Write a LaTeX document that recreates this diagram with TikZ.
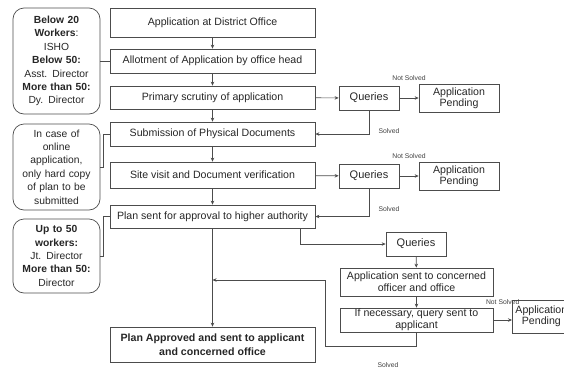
\documentclass[tikz,border=0pt]{standalone}
\usepackage{fontspec}
\setmainfont{Liberation Sans}
\usetikzlibrary{arrows.meta,calc}
\begin{document}
\begin{tikzpicture}[x=1pt,y=-1pt,
  every node/.style={font=\fontsize{10.6}{12}\selectfont, text=black!85},
  box/.style={draw=black!70, line width=0.7pt, minimum width=205pt, minimum height=24pt, inner sep=1pt, align=center},
  qbox/.style={draw=black!70, line width=0.7pt, minimum width=60pt, minimum height=24pt, inner sep=1pt, align=center, font=\fontsize{11}{12}\selectfont},
  pbox/.style={draw=black!70, line width=0.7pt, minimum width=80pt, minimum height=28pt, inner sep=0pt, align=center, font=\fontsize{10.6}{11}\selectfont},
  sbox/.style={draw=black!70, line width=0.7pt, minimum width=153pt, minimum height=28pt, inner sep=0pt, align=center, font=\fontsize{10.6}{12}\selectfont},
  lbox/.style={draw=black!70, line width=0.7pt, rounded corners=11pt, minimum width=87pt, inner sep=1pt, align=center, text width=85pt, font=\fontsize{10.3}{13.4}\selectfont},
  lbl/.style={font=\fontsize{6.8}{7}\selectfont, text=black!75},
  arr/.style={draw=black!70, line width=0.7pt, -{Stealth[length=4pt,width=3.5pt]}},
  ln/.style={draw=black!70, line width=0.7pt}]
\useasboundingbox (0,0) rectangle (564,370);
% main column
\node[box, minimum height=29pt] (a1) at (212.5,22.5) {Application at District Office};
\node[box] (a2) at (212.5,61) {Allotment of Application by office head};
\node[box, minimum height=23pt] (a3) at (212.5,97.5) {Primary scrutiny of application};
\node[box] (a4) at (212.5,134) {Submission of Physical Documents};
\node[box, minimum height=26pt] (a5) at (212.5,175) {Site visit and Document verification};
\node[box, minimum height=23pt] (a6) at (212.5,216.5) {Plan sent for approval to higher authority};
\node[box, minimum height=35pt, font=\bfseries\fontsize{10.6}{13.5}\selectfont] (a7) at (212.5,344.5) {Plan Approved and sent to applicant\\and concerned office};
% left notes
\node[lbox, minimum height=106pt] (l1) at (56.5,61) {\textbf{Below 20}\\\textbf{Workers}:\\ISHO\\\textbf{Below 50:}\\Asst. Director\\\textbf{More than 50:}\\Dy. Director};
\node[lbox, minimum height=86pt] (l2) at (56.5,167) {In case of\\online\\application,\\only hard copy\\of plan to be\\submitted};
\node[lbox, minimum height=74pt] (l3) at (56.5,256) {\textbf{Up to 50}\\\textbf{workers:}\\Jt. Director\\\textbf{More than 50:}\\Director};
% queries
\node[qbox] (q1) at (369,98) {Queries};
\node[pbox] (p1) at (459,98) {Application\\Pending};
\node[qbox] (q2) at (369,176) {Queries};
\node[pbox] (p2) at (459,176) {Application\\Pending};
\node[qbox] (q3) at (416,244) {Queries};
\node[sbox] (s1) at (416.5,282) {Application sent to concerned\\officer and office};
\node[sbox, minimum height=24pt] (s2) at (416.5,320) {If necessary, query sent to\\applicant};
\node[pbox, minimum height=33pt, minimum width=58pt, anchor=west] (p3) at (512,316.5) {Application\\Pending};
% main arrows
\draw[arr] (a1) -- (a2);
\draw[arr] (a2) -- (a3);
\draw[arr] (a3) -- (a4);
\draw[arr] (a4) -- (a5);
\draw[arr] (a5) -- (a6);
\draw[arr] (a6) -- (a7);
% left connectors
\draw[ln] (l1.east) -- (a2.west);
\draw[ln] (l2.east) -- ++(3,0) |- (a4.west);
\draw[ln] (l3.east) -- ++(3,0) |- (a6.west);
% query loops
\draw[arr] (a3) -- (q1);
\draw[arr] (q1) -- node[lbl, above=14pt] {Not Solved} (p1);
\draw[arr] (q1.south) |- (a4.east);
\node[lbl] at (389,131) {Solved};
\draw[arr] (a5) -- (q2);
\draw[arr] (q2) -- node[lbl, above=14pt] {Not Solved} (p2);
\draw[arr] (q2.south) |- (a6.east);
\node[lbl] at (389,209) {Solved};
% third branch
\draw[arr] ([xshift=-15pt]a6.south east) |- (q3.west);
\draw[arr] (q3) -- (s1);
\draw[arr] (s1) -- (s2);
\draw[arr] (s2.east) -- node[lbl, above=12pt] {Not Solved} (s2.east -| p3.west);
\coordinate (c1) at (325,346);
\coordinate (m) at (212.5,280);
\draw[arr] (s2.south) |- (c1) |- (m);
\node[lbl] at (388,365) {Solved};
\end{tikzpicture}
\end{document}
